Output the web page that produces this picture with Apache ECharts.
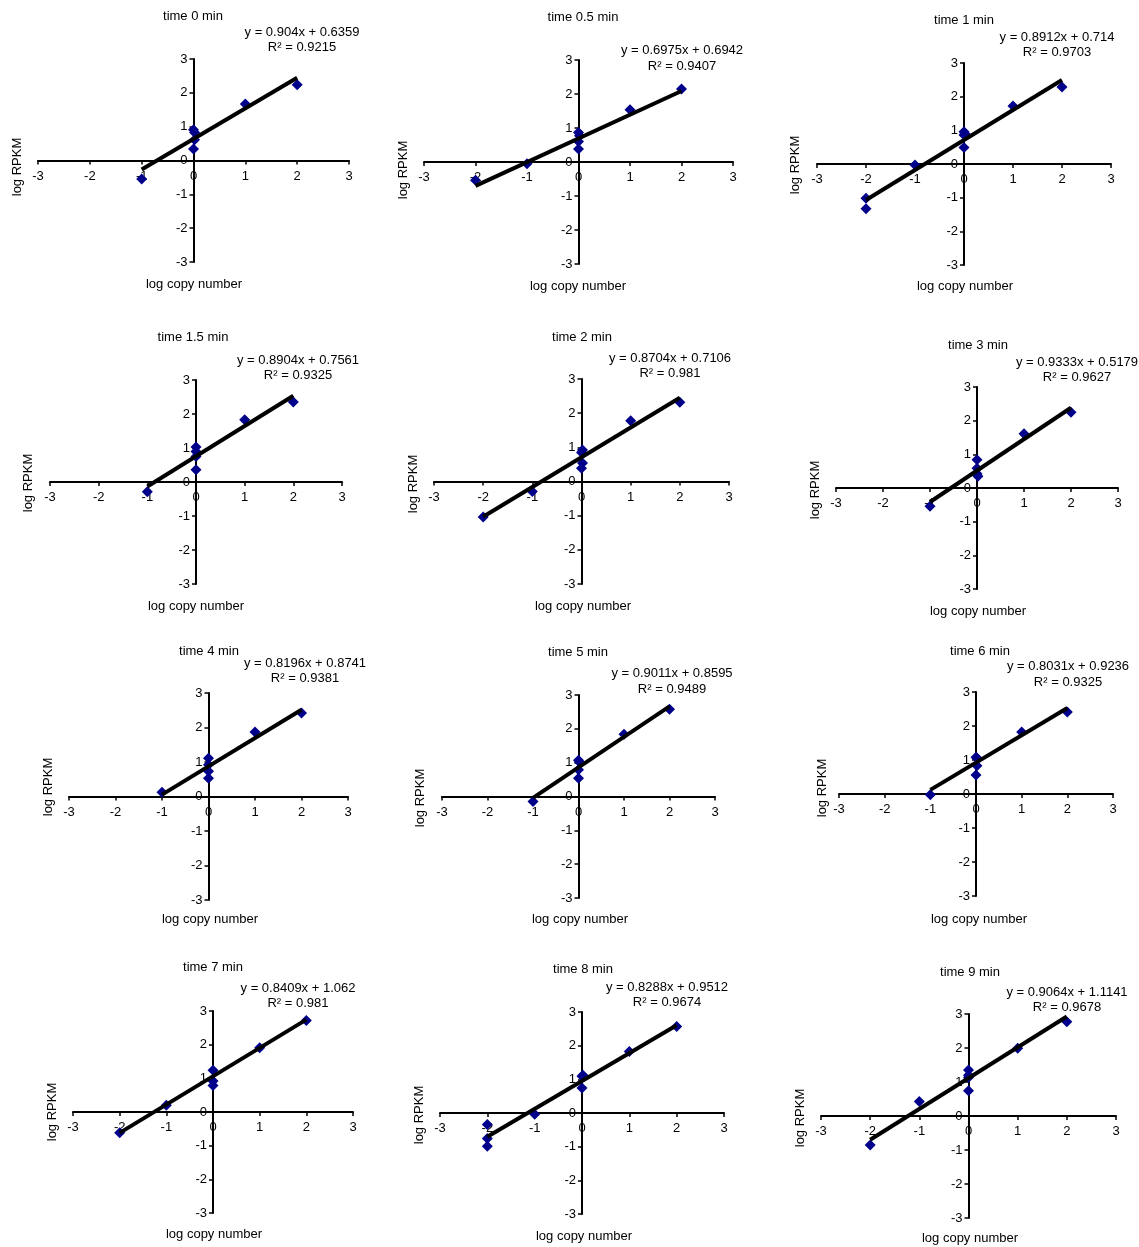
<!DOCTYPE html>
<html><head><meta charset="utf-8">
<script src="https://cdn.jsdelivr.net/npm/echarts@6/dist/echarts.min.js"></script>
<style>html,body{margin:0;padding:0;background:#fff}#c{width:1139px;height:1247px}</style>
</head><body><div id="c"></div>
<script>
// ---- data ----
const panelTitles = ['time 0 min','time 0.5 min','time 1 min','time 1.5 min','time 2 min','time 3 min',
  'time 4 min','time 5 min','time 6 min','time 7 min','time 8 min','time 9 min'];
const slopes = [0.904, 0.6975, 0.8912, 0.8904, 0.8704, 0.9333, 0.8196, 0.9011, 0.8031, 0.8409, 0.8288, 0.9064];
const intercepts = [0.6359, 0.6942, 0.714, 0.7561, 0.7106, 0.5179, 0.8741, 0.8595, 0.9236, 1.062, 0.9512, 1.1141];
const eqLabels = ['y = 0.904x + 0.6359','y = 0.6975x + 0.6942','y = 0.8912x + 0.714','y = 0.8904x + 0.7561',
  'y = 0.8704x + 0.7106','y = 0.9333x + 0.5179','y = 0.8196x + 0.8741','y = 0.9011x + 0.8595',
  'y = 0.8031x + 0.9236','y = 0.8409x + 1.062','y = 0.8288x + 0.9512','y = 0.9064x + 1.1141'];
const r2Labels = ['R² = 0.9215','R² = 0.9407','R² = 0.9703','R² = 0.9325','R² = 0.981','R² = 0.9627',
  'R² = 0.9381','R² = 0.9489','R² = 0.9325','R² = 0.981','R² = 0.9674','R² = 0.9678'];
const trendFrom = [-1,-2,-2,-1,-2,-1,-1,-1,-1,-2,-2,-2];
const trendTo   = [2,2,2,2,2,2,2,2,2,2,2,2];
const tickValues = [-3,-2,-1,0,1,2,3];

const t0_x  = [-1, 0, 0.02, 0.02, 0, 1, 2];
const t0_y  = [-0.55, 0.91, 0.83, 0.61, 0.34, 1.67, 2.24];
const t05_x = [-2, -1, 0, 0.02, 0, 0, 1, 2];
const t05_y = [-0.54, -0.05, 0.87, 0.77, 0.6, 0.38, 1.54, 2.15];
const t1_x  = [-2, -2, -1, 0, 0.02, 0, 0, 1, 2];
const t1_y  = [-1.02, -1.33, -0.03, 0.96, 0.9, 0.86, 0.49, 1.72, 2.29];
const t15_x = [-1, 0, 0, 0, 0, 1, 2];
const t15_y = [-0.29, 1.03, 0.9, 0.75, 0.36, 1.83, 2.35];
const t2_x  = [-2, -1, 0, 0.02, 0.02, 0, 1, 2];
const t2_y  = [-1.04, -0.29, 0.85, 0.92, 0.54, 0.39, 1.78, 2.32];
const t3_x  = [-1, 0, 0, 0, 0.02, 1, 2];
const t3_y  = [-0.54, 0.84, 0.59, 0.42, 0.35, 1.61, 2.25];
const t4_x  = [-1, 0, 0, 0, 0, 1, 2];
const t4_y  = [0.12, 1.11, 0.92, 0.73, 0.53, 1.87, 2.42];
const t5_x  = [-1, 0, 0.02, 0, 0, 1, 2];
const t5_y  = [-0.15, 1.07, 1.02, 0.79, 0.54, 1.84, 2.58];
const t6_x  = [-1, 0, 0.02, 0.02, 0, 1, 2];
const t6_y  = [-0.02, 1.08, 1.06, 0.83, 0.56, 1.82, 2.41];
const t7_x  = [-2, -1, 0, 0, 0, 1, 2];
const t7_y  = [-0.62, 0.2, 1.24, 0.92, 0.79, 1.91, 2.72];
const t8_x  = [-2, -2, -2, -1, 0, 0.02, 0, 1, 2];
const t8_y  = [-0.34, -0.76, -0.99, -0.04, 1.09, 1.12, 0.74, 1.83, 2.57];
const t9_x  = [-2, -1, 0, 0, 0, 0, 1, 2];
const t9_y  = [-0.85, 0.43, 1.35, 1.2, 1.13, 0.74, 1.99, 2.77];
const allX = [t0_x,t05_x,t1_x,t15_x,t2_x,t3_x,t4_x,t5_x,t6_x,t7_x,t8_x,t9_x];
const allY = [t0_y,t05_y,t1_y,t15_y,t2_y,t3_y,t4_y,t5_y,t6_y,t7_y,t8_y,t9_y];

// ---- layout (pixels) ----
const grids = [[38,59,311,203],[424,60,309,204],[817,63,294,202],[50,380,292,204],[434,379,295,205],[836,387,282,202],
  [69,693,279,207],[442,695,273,203],[839,692,274,204],[73,1011,280,202],[440,1012,284,202],[821,1014,295,204]];
const titlePos = [[193,16],[583,17],[964,20],[193,337],[582,337],[978,345],[209,651],[578,652],[980,651],[213,967],[583,969],[970,972]];
const eqPos = [[302,32,47],[682,50,66],[1057,37,52],[298,360,375],[670,358,373],[1077,362,377],
  [305,663,678],[672,673,689],[1068,666,682],[298,988,1003],[667,987,1002],[1067,992,1007]];
const yNamePos = [[17,167],[403,170],[795,165],[28,483],[413,484],[815,490],[48,787],[420,798],[822,788],[52,1112],[419,1115],[800,1118]];
const xNamePos = [[194,284],[578,286],[965,286],[196,606],[583,606],[978,611],[210,919],[580,919],[979,919],[214,1234],[584,1236],[970,1238]];

const FONT = 'Liberation Sans, Arial, sans-serif';
const FS = 13;
const grid = [], xAxis = [], yAxis = [], series = [], graphic = [];
function txt(t, x, y, rot){
  const el = {type:'text', x:x, y:y, style:{text:t, font:FS + 'px ' + FONT, fill:'#000', textAlign:'center', textVerticalAlign:'middle'}};
  if (rot) el.rotation = rot;
  return el;
}
for (let i = 0; i < 12; i++){
  const g = grids[i];
  grid.push({left:g[0], top:g[1], width:g[2], height:g[3], containLabel:false});
  const mk = (extra, margin) => Object.assign({
    type:'value', gridIndex:i, min:tickValues[0], max:tickValues[tickValues.length-1], interval:1,
    splitLine:{show:false},
    axisLine:{show:true, onZero:false, lineStyle:{color:'#000', width:2}},
    axisTick:{show:true, inside:false, length:4, lineStyle:{color:'#000', width:1.5}},
    axisLabel:{color:'#000', fontSize:FS, fontFamily:FONT, margin:margin, showMinLabel:true, showMaxLabel:true}
  }, extra);
  // symmetric ranges: zero sits at the centre of the grid, so offset the axes inward by half the size
  xAxis.push(mk({position:'bottom', offset:-g[3]/2}, 9));
  yAxis.push(mk({position:'left', offset:-g[2]/2}, 6));
  const pts = allX[i].map((x, k) => [x, allY[i][k]]);
  series.push({type:'scatter', xAxisIndex:i, yAxisIndex:i, data:pts, symbol:'diamond', symbolSize:11,
    itemStyle:{color:'#00008B', opacity:1}, z:2, silent:true});
  const a = trendFrom[i], b = trendTo[i];
  series.push({type:'line', xAxisIndex:i, yAxisIndex:i,
    data:[[a, slopes[i]*a + intercepts[i]], [b, slopes[i]*b + intercepts[i]]],
    symbol:'none', lineStyle:{color:'#000', width:4}, z:3, silent:true, animation:false});
  graphic.push(txt(panelTitles[i], titlePos[i][0], titlePos[i][1]));
  graphic.push(txt(eqLabels[i], eqPos[i][0], eqPos[i][1]));
  graphic.push(txt(r2Labels[i], eqPos[i][0], eqPos[i][2]));
  graphic.push(txt('log RPKM', yNamePos[i][0], yNamePos[i][1], Math.PI/2));
  graphic.push(txt('log copy number', xNamePos[i][0], xNamePos[i][1]));
}
const chart = echarts.init(document.getElementById('c'));
chart.setOption({animation:false, backgroundColor:'#fff', grid, xAxis, yAxis, series, graphic});
</script>
</body></html>
